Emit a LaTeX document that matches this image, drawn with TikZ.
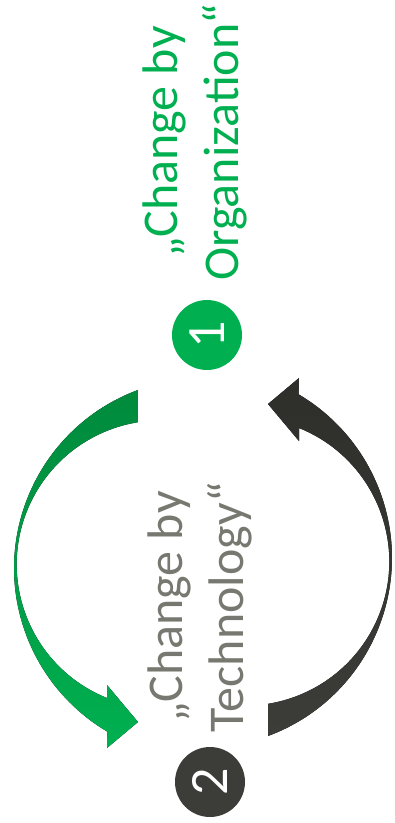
\documentclass[tikz,border=0pt]{standalone}
\usepackage{fontspec}
\setmainfont{Carlito}
\usepackage{xcolor}
\usepackage{tikz}
\usetikzlibrary{positioning}

\definecolor{orggreen}{HTML}{00B050}
\definecolor{deepgreen}{HTML}{008A3C}
\definecolor{techgray}{HTML}{777870}
\definecolor{slate}{HTML}{3C3D38}
\definecolor{slatedark}{HTML}{2E2F2B}

\begin{document}
\begin{tikzpicture}[
    x=1pt, y=1pt,
    numcircle/.style={circle, minimum size=70pt, inner sep=0pt, text=white, font=\fontsize{54}{54}\selectfont, rotate=90},
    labeltext/.style={align=center, rotate=90, inner sep=0pt, font=\fontsize{50}{61}\selectfont},
]
\useasboundingbox (0,0) rectangle (395,-823);

% Step 1: organization
\node[numcircle, fill=orggreen] (num1) at (207,-335) {1};
\node[labeltext, text=orggreen] (org) at (195,-142) {„Change by\\Organization“};

% Step 2: technology
\node[numcircle, fill=slate] (num2) at (210,-782) {2};
\node[labeltext, text=techgray] (tech) at (200,-607) {„Change by\\Technology“};

% Cycle arrows (second one is the first turned half way round)
\coordinate (pivot) at (203,-563);
\foreach \turn/\topc/\botc in {0/deepgreen/orggreen, 180/slatedark/slate}
  \fill[rotate around={\turn:(pivot)}, top color=\topc, bottom color=\botc]
    (138,-390) arc[start angle=110.35, end angle=239.4, radius=190]
    -- (107,-748) -- (138,-722) -- (107,-685) -- (107,-698)
    arc[start angle=248.1, end angle=99.2, radius=144] -- cycle;
\end{tikzpicture}
\end{document}
